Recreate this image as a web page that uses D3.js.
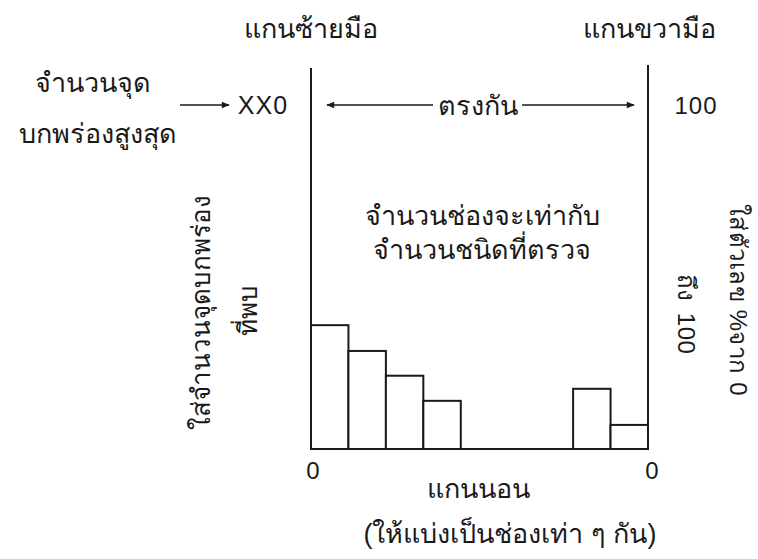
<!DOCTYPE html>
<html>
<head>
<meta charset="utf-8">
<script src="https://cdn.jsdelivr.net/npm/d3@7"></script>
<style>
  body { margin: 0; background: #fff; }
  text { font-family: "Liberation Sans", "Noto Sans", "DejaVu Sans", sans-serif; fill: #1a1a1a; }
</style>
</head>
<body>
<div class="chart"></div>
<script>
var width = 758;
var height = 559;

// data
var categories = ['1', '2', '3', '4', '5', '6', '7', '8', '9'];
var counts = [36, 28.5, 21.3, 14, 0, 0, 0, 17.5, 7];
var leftTicks = ['0', 'XX0'];
var rightTicks = ['0', '100'];

var margin = {left: 311, right: 110, top: 105, bottom: 110};

var x = d3.scaleBand()
  .domain(categories)
  .range([margin.left, width - margin.right])
  .padding(0);

var y = d3.scaleLinear()
  .domain([0, 100])
  .range([height - margin.bottom, margin.top]);

var svg = d3.select('.chart').append('svg')
  .attr('width', width)
  .attr('height', height);

var defs = svg.append('defs');
defs.append('marker')
  .attr('id', 'head')
  .attr('viewBox', '0 0 10 10')
  .attr('refX', 9).attr('refY', 5)
  .attr('markerWidth', 9).attr('markerHeight', 8)
  .attr('markerUnits', 'userSpaceOnUse')
  .attr('orient', 'auto-start-reverse')
  .append('path')
  .attr('d', 'M0,1 L10,5 L0,9 Z')
  .attr('fill', '#1a1a1a');

var x0 = x.range()[0], x1 = x.range()[1];
var thai = '27px';

// bars
svg.append('g').selectAll('rect')
  .data(categories.map((c, i) => ({cat: c, value: counts[i]})).filter(d => d.value > 0))
  .enter().append('rect')
    .attr('x', d => x(d.cat))
    .attr('y', d => y(d.value))
    .attr('width', x.bandwidth())
    .attr('height', d => y(0) - y(d.value))
    .attr('fill', 'white')
    .attr('stroke', '#1a1a1a')
    .attr('stroke-width', 2);

// axis lines
svg.append('line')
  .attr('x1', x0).attr('x2', x0)
  .attr('y1', 68).attr('y2', y(0))
  .attr('stroke', '#1a1a1a').attr('stroke-width', 2);
svg.append('line')
  .attr('x1', x1).attr('x2', x1)
  .attr('y1', 65).attr('y2', y(0))
  .attr('stroke', '#1a1a1a').attr('stroke-width', 2);
svg.append('line')
  .attr('x1', x0).attr('x2', x1)
  .attr('y1', y(0)).attr('y2', y(0))
  .attr('stroke', '#1a1a1a').attr('stroke-width', 2);

// axis titles
svg.append('text').attr('x', x0).attr('y', 38)
  .attr('text-anchor', 'middle').style('font-size', thai)
  .text('แกนซ้ายมือ');
svg.append('text').attr('x', x1 + 1).attr('y', 38)
  .attr('text-anchor', 'middle').style('font-size', thai)
  .text('แกนขวามือ');

// top labels
svg.append('text').attr('x', 263).attr('y', y(100))
  .attr('dy', '0.36em').attr('text-anchor', 'middle')
  .style('font-size', '25px').style('letter-spacing', '1px')
  .text(leftTicks[1]);
svg.append('text').attr('x', 696).attr('y', y(100))
  .attr('dy', '0.36em').attr('text-anchor', 'middle')
  .style('font-size', '24px').style('letter-spacing', '1px')
  .text(rightTicks[1]);

// left note with arrow
svg.append('text').attr('x', 93).attr('y', 92)
  .attr('text-anchor', 'middle').style('font-size', thai)
  .text('จำนวนจุด');
svg.append('text').attr('x', 98).attr('y', 143)
  .attr('text-anchor', 'middle').style('font-size', thai)
  .text('บกพร่องสูงสุด');
svg.append('line')
  .attr('x1', 180).attr('x2', 229)
  .attr('y1', y(100)).attr('y2', y(100))
  .attr('stroke', '#1a1a1a').attr('stroke-width', 1.5)
  .attr('marker-end', 'url(#head)');

// double arrow "ตรงกัน"
svg.append('line')
  .attr('x1', x0 + 16).attr('x2', 433)
  .attr('y1', y(100)).attr('y2', y(100))
  .attr('stroke', '#1a1a1a').attr('stroke-width', 1.5)
  .attr('marker-start', 'url(#head)');
svg.append('line')
  .attr('x1', 522).attr('x2', x1 - 14)
  .attr('y1', y(100)).attr('y2', y(100))
  .attr('stroke', '#1a1a1a').attr('stroke-width', 1.5)
  .attr('marker-end', 'url(#head)');
svg.append('text').attr('x', 478).attr('y', y(100))
  .attr('dy', '0.36em').attr('text-anchor', 'middle').style('font-size', thai)
  .text('ตรงกัน');

// centre note
svg.append('text').attr('x', 482).attr('y', 225)
  .attr('text-anchor', 'middle').style('font-size', thai)
  .text('จำนวนช่องจะเท่ากับ');
svg.append('text').attr('x', 482).attr('y', 259)
  .attr('text-anchor', 'middle').style('font-size', thai)
  .text('จำนวนชนิดที่ตรวจ');

// vertical notes
svg.append('text')
  .attr('transform', 'translate(210,312) rotate(-90)')
  .attr('text-anchor', 'middle').style('font-size', '26px')
  .text('ใส่จำนวนจุดบกพร่อง');
svg.append('text')
  .attr('transform', 'translate(257,310) rotate(-90)')
  .attr('text-anchor', 'middle').style('font-size', '26px')
  .text('ที่พบ');
svg.append('text')
  .attr('transform', 'translate(730,300) rotate(90)')
  .attr('text-anchor', 'middle').style('font-size', '24px')
  .style('letter-spacing', '0.5px')
  .text('ใส่ตัวเลข %จาก 0');
svg.append('text')
  .attr('transform', 'translate(678,314) rotate(90)')
  .attr('text-anchor', 'middle').style('font-size', '24px')
  .style('letter-spacing', '0.5px').style('word-spacing', '4px')
  .text('ถึง 100');

// bottom zero labels
svg.append('text').attr('x', x0 + 2).attr('y', 479)
  .attr('text-anchor', 'middle').style('font-size', '24px')
  .text(leftTicks[0]);
svg.append('text').attr('x', x1 + 4).attr('y', 479)
  .attr('text-anchor', 'middle').style('font-size', '24px')
  .text(rightTicks[0]);

// x axis title
svg.append('text').attr('x', 478).attr('y', 498)
  .attr('text-anchor', 'middle').style('font-size', thai)
  .text('แกนนอน');
svg.append('text').attr('x', 510).attr('y', 543)
  .attr('text-anchor', 'middle').style('font-size', thai)
  .text('(ให้แบ่งเป็นช่องเท่า ๆ กัน)');
</script>
</body>
</html>
